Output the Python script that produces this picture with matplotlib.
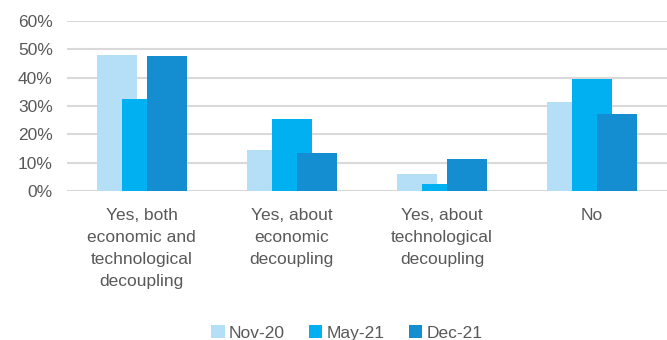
import numpy as np
from matplotlib import pyplot as plt

categories = ['Yes, both\neconomic and\ntechnological\ndecoupling',
              'Yes, about\neconomic\ndecoupling',
              'Yes, about\ntechnological\ndecoupling',
              'No']
series = ['Nov-20', 'May-21', 'Dec-21']
nov20 = [48.0, 14.5, 6.2, 31.3]
may21 = [32.5, 25.4, 2.4, 39.5]
dec21 = [47.6, 13.5, 11.2, 27.2]
colors = ['#b5dff7', '#00b0f0', '#148dd1']

plt.rcParams['font.family'] = ['Liberation Sans', 'DejaVu Sans']
fig = plt.figure(figsize=(6.67, 3.4), dpi=100)
ax = fig.add_axes([0.1, 0.438, 0.9, 0.5])

x = np.arange(len(categories))
step = 1 / 6
width = 0.2667
for i, (vals, name) in enumerate(zip([nov20, may21, dec21], series)):
    ax.bar(x + (i - 1) * step, vals, width, color=colors[i], label=name, zorder=2 + i)

ax.set_xlim(-0.5, 3.5)
ax.set_ylim(0, 60)
ax.set_yticks(range(0, 61, 10))
ax.set_yticklabels([f'{v}%' for v in range(0, 61, 10)])
ax.set_xticks(x)
ax.set_xticklabels(categories, linespacing=1.6)
ax.grid(axis='y', color='#d9d9d9', linewidth=1.5, zorder=0)
ax.set_axisbelow(True)
for s in ax.spines.values():
    s.set_visible(False)
ax.tick_params(length=0, colors='#595959', labelsize=12.5)
ax.tick_params(axis='x', pad=12)
ax.tick_params(axis='y', pad=10)

fig.legend(loc='center', bbox_to_anchor=(0.52, 0.02), ncol=3, frameon=False,
           fontsize=12.5, labelcolor='#595959', handlelength=0.75, handleheight=0.75,
           handletextpad=0.25, columnspacing=1.4)

fig.savefig('out.png', dpi=100)
